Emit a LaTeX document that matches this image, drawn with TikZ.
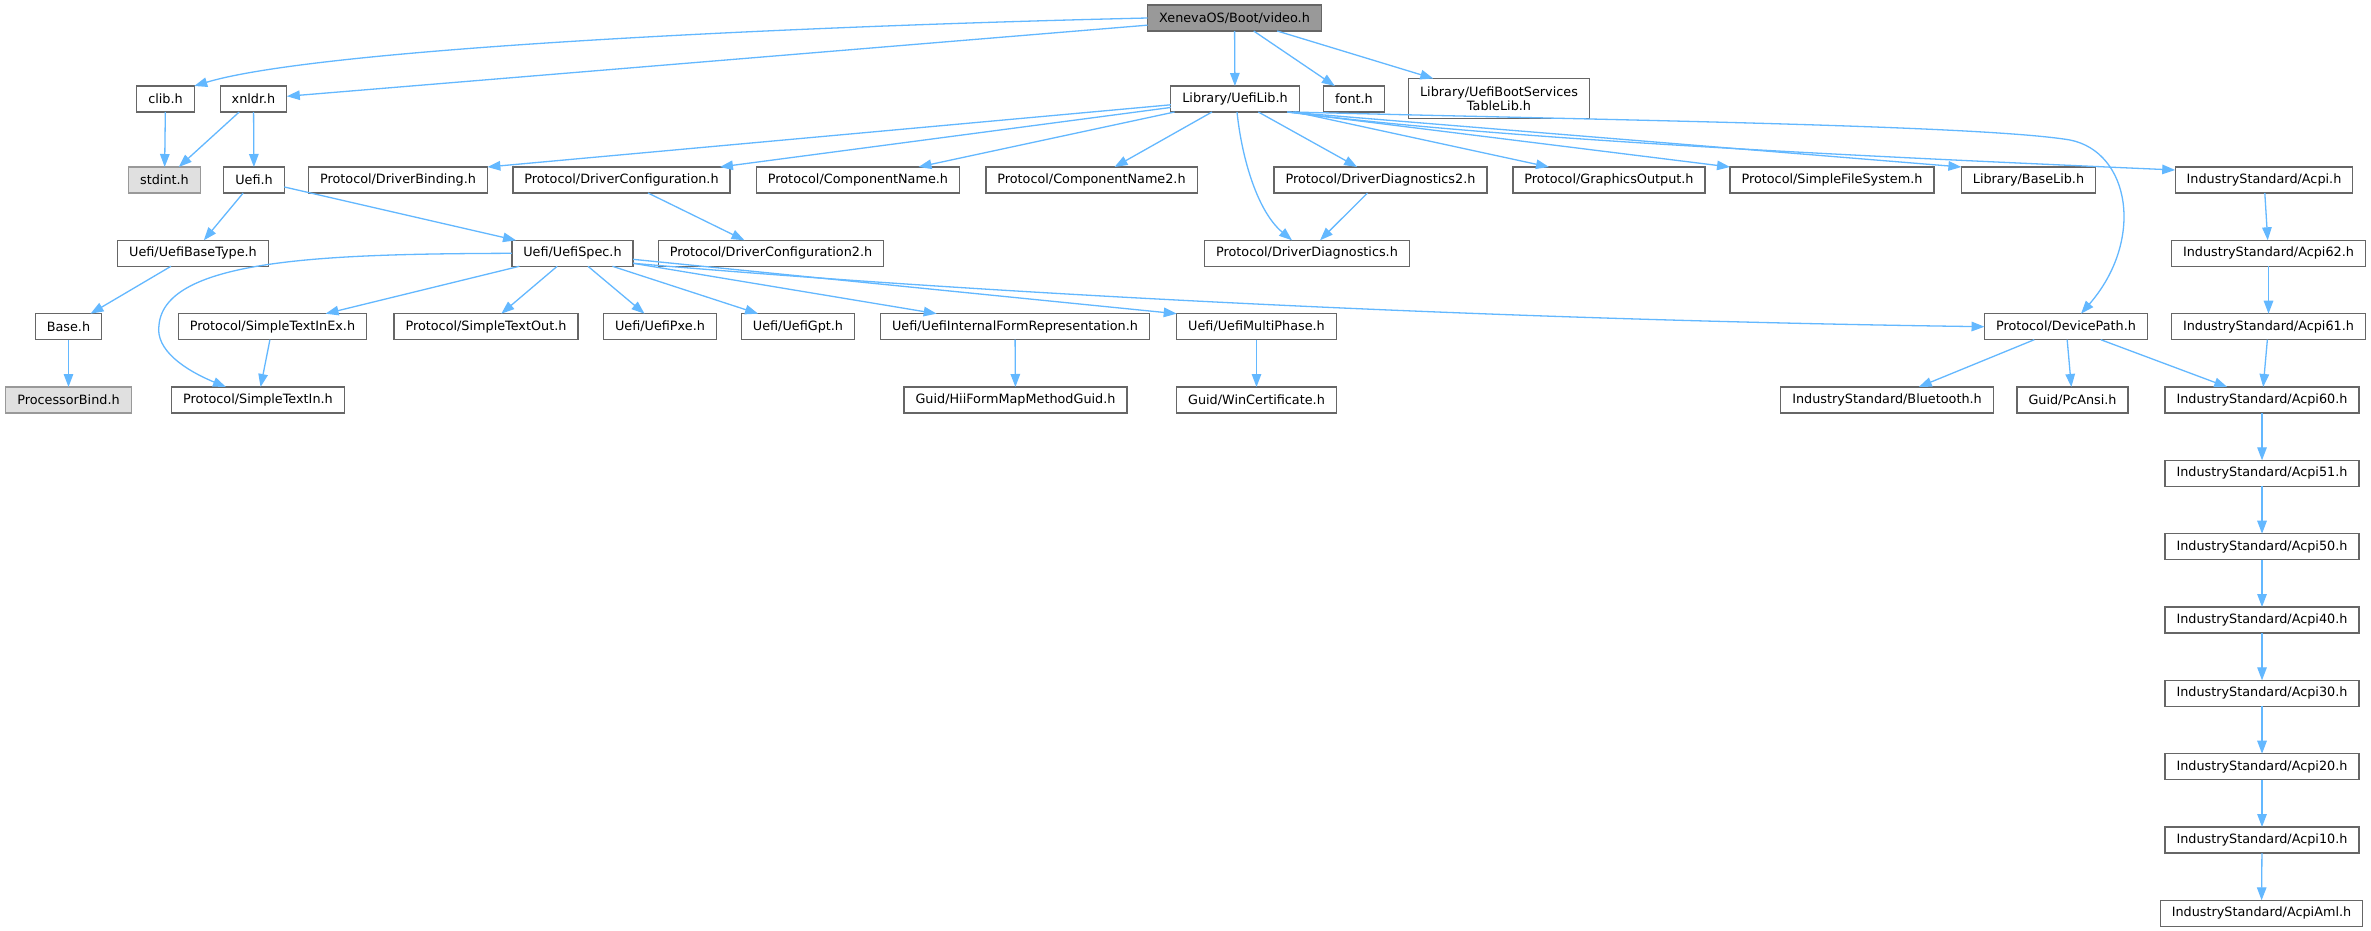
\documentclass[tikz,border=0pt]{standalone}
\usepackage{fontspec}
\setmainfont{DejaVu Sans}
\usepackage{tikz}
\usetikzlibrary{arrows.meta}

\definecolor{edgeblue}{HTML}{63B8FF}
\definecolor{nodeedge}{HTML}{666666}
\definecolor{rootfill}{HTML}{999999}
\definecolor{missingfill}{HTML}{E0E0E0}
\definecolor{missingedge}{HTML}{999999}

\tikzset{
  file/.style={draw=nodeedge, fill=white, line width=1.3pt, minimum height=26pt,
    inner xsep=11.5pt, inner ysep=2pt, outer sep=0pt, font=\fontsize{12.8}{14}\selectfont},
  root/.style={file, fill=rootfill},
  missing/.style={file, draw=missingedge, fill=missingfill},
  dep/.style={draw=edgeblue, line width=1.3pt, -{Triangle[length=13pt,width=9.5pt]}},
}

\begin{document}
\begin{tikzpicture}[x=1pt, y=-1pt]
      % Page frame
      \path[use as bounding box, fill=white] (0,0) rectangle (2371,931);
      % Root header
      \node[root] (video) at (1234.5,18) {XenevaOS/Boot/video.h};
      % First level
      \node[file] (clib) at (165.5,99) {clib.h};
      \node[file] (xnldr) at (253.5,99) {xnldr.h};
      \node[file] (uefilib) at (1235,99) {Library/UefiLib.h};
      \node[file] (font) at (1354,99) {font.h};
      \node[file, minimum height=40pt, align=center] (bstable) at (1499,98.5) {Library/UefiBootServices\\TableLib.h};
      % Second level
      \node[missing] (stdint) at (164.5,180) {stdint.h};
      \node[file] (uefih) at (254,180) {Uefi.h};
      \node[file] (drvbind) at (398,180) {Protocol/DriverBinding.h};
      \node[file] (drvcfg) at (621.5,180) {Protocol/DriverConfiguration.h};
      \node[file] (compname) at (858,180) {Protocol/ComponentName.h};
      \node[file] (compname2) at (1091.5,180) {Protocol/ComponentName2.h};
      \node[file] (drvdiag2) at (1380.5,180) {Protocol/DriverDiagnostics2.h};
      \node[file] (gop) at (1609,180) {Protocol/GraphicsOutput.h};
      \node[file] (sfs) at (1832,180) {Protocol/SimpleFileSystem.h};
      \node[file] (baselib) at (2028.5,180) {Library/BaseLib.h};
      \node[file] (acpi) at (2264,180) {IndustryStandard/Acpi.h};
      % Third level
      \node[file] (basetype) at (193,253.3) {Uefi/UefiBaseType.h};
      \node[file] (uefispec) at (572.5,253.3) {Uefi/UefiSpec.h};
      \node[file] (drvcfg2) at (771,253.3) {Protocol/DriverConfiguration2.h};
      \node[file] (drvdiag) at (1307,253.3) {Protocol/DriverDiagnostics.h};
      \node[file] (acpi62) at (2268.5,253.3) {IndustryStandard/Acpi62.h};
      % Fourth level
      \node[file] (base) at (68.5,326.7) {Base.h};
      \node[file] (stinex) at (272.5,326.7) {Protocol/SimpleTextInEx.h};
      \node[file] (stout) at (486,326.7) {Protocol/SimpleTextOut.h};
      \node[file] (pxe) at (660,326.7) {Uefi/UefiPxe.h};
      \node[file] (gpt) at (798,326.7) {Uefi/UefiGpt.h};
      \node[file] (ifr) at (1015,326.7) {Uefi/UefiInternalFormRepresentation.h};
      \node[file] (multiphase) at (1256.5,326.7) {Uefi/UefiMultiPhase.h};
      \node[file] (devpath) at (2066,326.7) {Protocol/DevicePath.h};
      \node[file] (acpi61) at (2268.5,326.7) {IndustryStandard/Acpi61.h};
      % Fifth level
      \node[missing] (procbind) at (68.5,400) {ProcessorBind.h};
      \node[file] (stin) at (258,400) {Protocol/SimpleTextIn.h};
      \node[file] (hiiform) at (1015.5,400) {Guid/HiiFormMapMethodGuid.h};
      \node[file] (wincert) at (1256.5,400) {Guid/WinCertificate.h};
      \node[file] (bluetooth) at (1887,400) {IndustryStandard/Bluetooth.h};
      \node[file] (pcansi) at (2072.5,400) {Guid/PcAnsi.h};
      \node[file] (acpi60) at (2262,400) {IndustryStandard/Acpi60.h};
      % ACPI column
      \node[file] (acpi51) at (2262,473.3) {IndustryStandard/Acpi51.h};
      \node[file] (acpi50) at (2262,546.7) {IndustryStandard/Acpi50.h};
      \node[file] (acpi40) at (2262,620) {IndustryStandard/Acpi40.h};
      \node[file] (acpi30) at (2262,693.3) {IndustryStandard/Acpi30.h};
      \node[file] (acpi20) at (2262,766.7) {IndustryStandard/Acpi20.h};
      \node[file] (acpi10) at (2262,840) {IndustryStandard/Acpi10.h};
      \node[file] (acpiaml) at (2261.5,913.3) {IndustryStandard/AcpiAml.h};

      % Includes of video.h
      \draw[dep] (video.west) .. controls (800,26) and (320,48) .. (clib.north east);
      \draw[dep] (video) -- (xnldr);
      \draw[dep] (video) -- (uefilib);
      \draw[dep] (video) -- (font);
      \draw[dep] (video) -- (bstable);
      % clib.h and xnldr.h
      \draw[dep] (clib) -- (stdint);
      \draw[dep] (xnldr) -- (stdint);
      \draw[dep] (xnldr) -- (uefih);
      % Uefi.h
      \draw[dep] (uefih) -- (basetype);
      \draw[dep] (uefih) -- (uefispec);
      \draw[dep] (basetype) -- (base);
      \draw[dep] (base) -- (procbind);
      % UefiSpec.h
      \draw[dep] (uefispec.west) .. controls (330,254) and (165,258) .. (159,325)
                 .. controls (155,350) and (185,370) .. ([xshift=-32pt]stin.north);
      \draw[dep] (uefispec) -- (stinex);
      \draw[dep] (uefispec) -- (stout);
      \draw[dep] (uefispec) -- (pxe);
      \draw[dep] (uefispec) -- (gpt);
      \draw[dep] (uefispec) -- (ifr);
      \draw[dep] (uefispec) -- (multiphase.north west);
      \draw[dep] ([yshift=3pt]uefispec.south east) .. controls (1000,295) and (1500,320) .. (devpath.west);
      \draw[dep] (stinex) -- (stin);
      \draw[dep] (ifr) -- (hiiform);
      \draw[dep] (multiphase) -- (wincert);
      % UefiLib.h
      \draw[dep] (uefilib) -- (drvbind.north east);
      \draw[dep] (uefilib) -- (drvcfg);
      \draw[dep] (uefilib) -- (compname);
      \draw[dep] (uefilib) -- (compname2);
      \draw[dep] ([xshift=2pt]uefilib.south) .. controls (1242,160) and (1258,212) .. ([xshift=-15pt]drvdiag.north);
      \draw[dep] (uefilib) -- (drvdiag2);
      \draw[dep] (uefilib) -- (gop);
      \draw[dep] ([xshift=-12pt]uefilib.south east) -- (sfs.north west);
      \draw[dep] ([xshift=-12pt]uefilib.south east) -- (baselib.north west);
      \draw[dep] ([xshift=-10pt]uefilib.south east) .. controls (1500,140) and (1900,158) .. ([yshift=10pt]acpi.west);
      \draw[dep] ([xshift=-6pt]uefilib.south east) .. controls (1600,120) and (1980,125) .. (2070,140)
                 .. controls (2130,152) and (2145,240) .. ([xshift=15pt]devpath.north);
      \draw[dep] (drvcfg) -- (drvcfg2);
      \draw[dep] (drvdiag2) -- (drvdiag);
      % DevicePath.h
      \draw[dep] (devpath) -- (bluetooth);
      \draw[dep] (devpath) -- (pcansi);
      \draw[dep] (devpath) -- (acpi60);
      % ACPI chain
      \draw[dep] (acpi) -- (acpi62);
      \draw[dep] (acpi62) -- (acpi61);
      \draw[dep] (acpi61) -- (acpi60);
      \draw[dep] (acpi60) -- (acpi51);
      \draw[dep] (acpi51) -- (acpi50);
      \draw[dep] (acpi50) -- (acpi40);
      \draw[dep] (acpi40) -- (acpi30);
      \draw[dep] (acpi30) -- (acpi20);
      \draw[dep] (acpi20) -- (acpi10);
      \draw[dep] (acpi10) -- (acpiaml);
\end{tikzpicture}
\end{document}
